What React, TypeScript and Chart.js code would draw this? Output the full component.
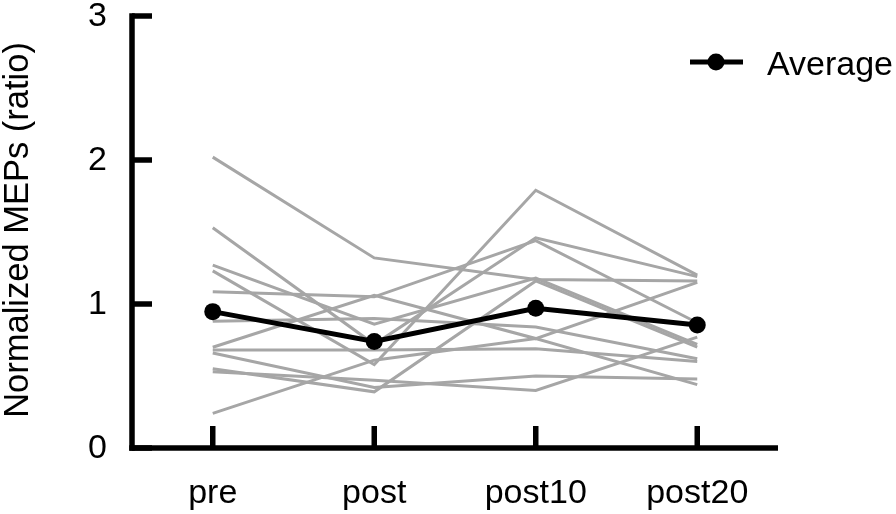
import React, { useEffect, useRef } from "react";
import { Chart, registerables } from "chart.js";

Chart.register(...registerables);

const categories = ["pre", "post", "post10", "post20"];
const yTicks = [0, 1, 2, 3];

const subject1 = [2.02, 1.32, 1.17, 1.16];
const subject2 = [1.53, 0.72, 1.46, 1.19];
const subject3 = [1.27, 0.86, 1.18, 0.72];
const subject4 = [1.23, 0.58, 1.79, 1.2];
const subject5 = [1.085, 1.05, 1.44, 0.87];
const subject6 = [0.88, 0.9, 0.84, 0.62];
const subject7 = [0.7, 1.06, 0.76, 1.15];
const subject8 = [0.68, 0.68, 0.69, 0.6];
const subject9 = [0.66, 0.42, 0.5, 0.48];
const subject10 = [0.53, 0.47, 0.4, 0.77];
const subject11 = [0.24, 0.61, 0.76, 0.44];
const subject12 = [0.55, 0.39, 1.16, 0.7];
const average = [0.947, 0.74, 0.97, 0.854];

const subjects = [
  subject1, subject2, subject3, subject4, subject5, subject6,
  subject7, subject8, subject9, subject10, subject11, subject12,
];

const FONT = "'Liberation Sans', Arial, sans-serif";
const GRAY = "#a6a6a6";

const axesPlugin = {
  id: "customAxes",
  afterDraw(chart: any) {
    const { ctx, chartArea } = chart;
    const x = chart.scales.x;
    const y = chart.scales.y;
    const left = chartArea.left;
    const right = chartArea.right;
    const yBottom = y.getPixelForValue(0);
    const yTop = y.getPixelForValue(3);
    ctx.save();
    ctx.strokeStyle = "#000";
    ctx.fillStyle = "#000";
    ctx.lineWidth = 5.5;
    ctx.lineCap = "butt";
    ctx.beginPath();
    ctx.moveTo(left, yTop - 2.75);
    ctx.lineTo(left, yBottom + 2.75);
    ctx.stroke();
    ctx.beginPath();
    ctx.moveTo(left - 2.75, yBottom);
    ctx.lineTo(right, yBottom);
    ctx.stroke();
    ctx.font = `34px ${FONT}`;
    ctx.textAlign = "right";
    ctx.textBaseline = "middle";
    yTicks.forEach((v) => {
      const py = y.getPixelForValue(v);
      ctx.beginPath();
      ctx.moveTo(left, py);
      ctx.lineTo(left + 20, py);
      ctx.stroke();
      ctx.fillText(String(v), left - 25, py + 1);
    });
    ctx.textAlign = "center";
    ctx.textBaseline = "alphabetic";
    categories.forEach((c, i) => {
      const px = x.getPixelForValue(i);
      ctx.beginPath();
      ctx.moveTo(px, yBottom);
      ctx.lineTo(px, yBottom - 22);
      ctx.stroke();
      ctx.fillText(c, px, 503);
    });
    ctx.save();
    ctx.translate(28, 230);
    ctx.rotate(-Math.PI / 2);
    ctx.font = `34.5px ${FONT}`;
    ctx.textAlign = "center";
    ctx.textBaseline = "alphabetic";
    ctx.fillText("Normalized MEPs (ratio)", 0, 0);
    ctx.restore();
    ctx.lineWidth = 5;
    ctx.beginPath();
    ctx.moveTo(690, 62);
    ctx.lineTo(743, 62);
    ctx.stroke();
    ctx.beginPath();
    ctx.arc(716, 62, 8.5, 0, Math.PI * 2);
    ctx.fill();
    ctx.font = `34px ${FONT}`;
    ctx.textAlign = "left";
    ctx.textBaseline = "alphabetic";
    ctx.fillText("Average", 767, 75);
    ctx.restore();
  },
};

export default function App() {
  const ref = useRef<HTMLCanvasElement | null>(null);
  useEffect(() => {
    if (!ref.current) return;
    const datasets: any[] = [
      {
        label: "Average",
        data: average,
        borderColor: "#000",
        backgroundColor: "#000",
        borderWidth: 5,
        pointRadius: 8.5,
        pointBorderWidth: 0,
        pointBackgroundColor: "#000",
        order: 0,
      },
      ...subjects.map((s, i) => ({
        label: `S${i + 1}`,
        data: s,
        borderColor: GRAY,
        borderWidth: 3,
        pointRadius: 0,
        order: 1,
      })),
    ];
    const chart = new Chart(ref.current, {
      type: "line",
      data: { labels: categories, datasets },
      options: {
        animation: false,
        responsive: false,
        layout: { padding: { left: 132, right: 118, top: 16, bottom: 66 } },
        plugins: { legend: { display: false }, tooltip: { enabled: false } },
        scales: {
          x: { type: "category", offset: true, display: false },
          y: { type: "linear", min: 0, max: 3, display: false },
        },
      },
      plugins: [axesPlugin],
    });
    return () => chart.destroy();
  }, []);
  return (
    <div style={{ position: "fixed", left: 0, top: 0, width: 896, height: 514, background: "#fff" }}>
      <canvas ref={ref} width={896} height={514} />
    </div>
  );
}
